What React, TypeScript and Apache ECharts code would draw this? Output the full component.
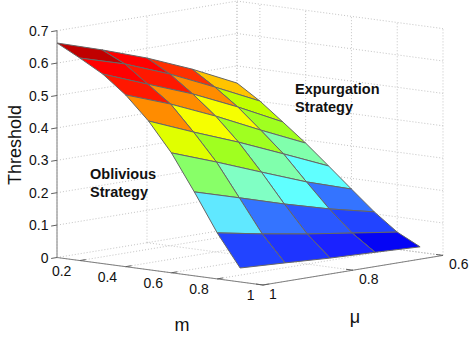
import React, { useEffect, useRef } from "react";
import * as echarts from "echarts";

// ---- data ----
const mValues = [0.1, 0.2, 0.3, 0.4, 0.5, 0.6, 0.7, 0.8, 0.9];
const muValues = [1, 0.9, 0.8, 0.7, 0.6];
const thresholdM01 = [0.662, 0.618, 0.57, 0.513, 0.447];
const thresholdM02 = [0.625, 0.584, 0.53, 0.467, 0.401];
const thresholdM03 = [0.585, 0.531, 0.478, 0.415, 0.346];
const thresholdM04 = [0.53, 0.479, 0.419, 0.353, 0.29];
const thresholdM05 = [0.459, 0.402, 0.348, 0.289, 0.229];
const thresholdM06 = [0.37, 0.319, 0.265, 0.212, 0.167];
const thresholdM07 = [0.259, 0.218, 0.176, 0.138, 0.106];
const thresholdM08 = [0.142, 0.116, 0.093, 0.073, 0.053];
const thresholdM09 = [0.043, 0.036, 0.028, 0.023, 0.017];
const thresholds = [
  thresholdM01, thresholdM02, thresholdM03, thresholdM04, thresholdM05,
  thresholdM06, thresholdM07, thresholdM08, thresholdM09,
];
// colour level of each face (row: m, column: mu)
const faceLevels = [
  [20, 19, 17, 15],
  [19, 18, 16, 12],
  [18, 16, 14, 11],
  [16, 14, 11, 9],
  [13, 11, 9, 7],
  [10, 8, 7, 5],
  [6, 5, 4, 3],
  [3, 2, 1, 0],
];
const zTicks = [0, 0.1, 0.2, 0.3, 0.4, 0.5, 0.6, 0.7];
const zTickLabels = ["0", "0.1", "0.2", "0.3", "0.4", "0.5", "0.6", "0.7"];
const mTicks = [0.2, 0.4, 0.6, 0.8, 1];
const mTickLabels = ["0.2", "0.4", "0.6", "0.8", "1"];
const muTicks = [1, 0.8, 0.6];
const muTickLabels = ["1", "0.8", "0.6"];

// ---- styling ----
const palette = [
  "#0505f5", "#1a22ff", "#1e34ff", "#2244ff", "#2a58ff", "#3474ff", "#60e8ff",
  "#60ffff", "#80ffc4", "#80ffac", "#88ff68", "#a0ff20", "#c0ff00", "#e0ff00",
  "#f6ff00", "#ffc400", "#ff8c00", "#ff3000", "#ff1800", "#ff0000", "#c00000",
];
const FONT = "Liberation Sans";

// ---- view projection of the 3D box on to the page plane ----
const M_MIN = 0.1, M_MAX = 1, MU_MIN = 0.6, MU_MAX = 1, Z_MAX = 0.7;
const project = (m: number, mu: number, z: number): [number, number] => {
  const a = (m - M_MIN) / (M_MAX - M_MIN);
  const b = (MU_MAX - mu) / (MU_MAX - MU_MIN);
  return [57 + 206 * a + 180 * b, 257.5 + 27.5 * a - 29.6 * b - 324 * z];
};

type Seg = { from: number[]; to: number[] };
const gridSegments: Seg[] = [];
zTicks.forEach((z) => {
  gridSegments.push({ from: [M_MIN, MU_MAX, z], to: [M_MIN, MU_MIN, z] });
  gridSegments.push({ from: [M_MIN, MU_MIN, z], to: [M_MAX, MU_MIN, z] });
});
mTicks.forEach((m) => {
  gridSegments.push({ from: [m, MU_MAX, 0], to: [m, MU_MIN, 0] });
  gridSegments.push({ from: [m, MU_MIN, 0], to: [m, MU_MIN, Z_MAX] });
});
muTicks.forEach((mu) => {
  gridSegments.push({ from: [M_MIN, mu, 0], to: [M_MAX, mu, 0] });
  gridSegments.push({ from: [M_MIN, mu, 0], to: [M_MIN, mu, Z_MAX] });
});
gridSegments.push({ from: [M_MIN, MU_MIN, 0], to: [M_MIN, MU_MIN, Z_MAX] });
gridSegments.push({ from: [M_MIN, MU_MIN, 0], to: [M_MAX, MU_MIN, 0] });

const axisSegments: Seg[] = [
  { from: [M_MIN, MU_MAX, 0], to: [M_MIN, MU_MAX, Z_MAX] },
  { from: [M_MIN, MU_MAX, 0], to: [M_MAX, MU_MAX, 0] },
  { from: [M_MAX, MU_MAX, 0], to: [M_MAX, MU_MIN, 0] },
];
const tickSegments: Seg[] = [
  ...zTicks.map((z) => ({ from: [M_MIN, MU_MAX, z], to: [M_MIN, MU_MAX + 0.013, z] })),
  ...mTicks.map((m) => ({ from: [m, MU_MAX, 0], to: [m, MU_MAX - 0.013, 0] })),
  ...muTicks.map((mu) => ({ from: [M_MAX, mu, 0], to: [M_MAX - 0.03, mu, 0] })),
];

const faces: number[][] = [];
faceLevels.forEach((row, i) => row.forEach((_, j) => faces.push([i, 3 - j])));
faces.sort((p, q) => p[0] - q[0] || q[1] - p[1]);

type Label = {
  text: string; x: number; y: number; size: number;
  align?: string; bold?: boolean; rotate?: number;
};
const labels: Label[] = [
  ...zTicks.map((z, k) => {
    const [, y] = project(M_MIN, MU_MAX, z);
    return { text: zTickLabels[k], x: 48.5, y, size: 14, align: "right" };
  }),
  ...mTicks.map((m, k) => {
    const [x, y] = project(m, MU_MAX, 0);
    return { text: mTickLabels[k], x: x - 8.5, y: y + 10, size: 14, align: "right" };
  }),
  ...muTicks.map((mu, k) => {
    const [x, y] = project(M_MAX, mu, 0);
    return { text: muTickLabels[k], x: x + 6, y: y + 9, size: 14, align: "left" };
  }),
  { text: "Threshold", x: 15, y: 145, size: 18, rotate: Math.PI / 2 },
  { text: "m", x: 182, y: 325, size: 18 },
  { text: "\u03bc", x: 355, y: 317, size: 18 },
  { text: "Expurgation", x: 295, y: 89, size: 14.5, align: "left", bold: true },
  { text: "Strategy", x: 295, y: 107, size: 14.5, align: "left", bold: true },
  { text: "Oblivious", x: 90, y: 174, size: 14.5, align: "left", bold: true },
  { text: "Strategy", x: 90, y: 192, size: 14.5, align: "left", bold: true },
];

const segSeries = (segs: Seg[], style: any, z: number) => ({
  type: "custom",
  coordinateSystem: "cartesian2d",
  silent: true,
  clip: false,
  z,
  data: segs.map((_, k) => [k]),
  renderItem: (_p: any, api: any) => {
    const s = segs[api.value(0)];
    const a = api.coord(project(s.from[0], s.from[1], s.from[2]));
    const b = api.coord(project(s.to[0], s.to[1], s.to[2]));
    return {
      type: "line",
      shape: { x1: a[0], y1: a[1], x2: b[0], y2: b[1] },
      style: { fill: null, ...style },
    };
  },
});

export default function App() {
  const ref = useRef<HTMLDivElement>(null);
  useEffect(() => {
    const chart = echarts.init(ref.current!, undefined, { renderer: "svg" });
    chart.setOption({
      animation: false,
      backgroundColor: "#ffffff",
      grid: { left: 0, right: 0, top: 0, bottom: 0 },
      xAxis: { type: "value", min: 0, max: 471, show: false },
      yAxis: { type: "value", min: 0, max: 346, inverse: true, show: false },
      series: [
        segSeries(gridSegments, { stroke: "#c4c4c4", lineWidth: 1, lineDash: [1, 2] }, 1),
        segSeries(axisSegments, { stroke: "#808080", lineWidth: 1 }, 2),
        segSeries(tickSegments, { stroke: "#606060", lineWidth: 1 }, 2),
        {
          type: "custom",
          coordinateSystem: "cartesian2d",
          silent: true,
          clip: false,
          z: 3,
          data: faces,
          renderItem: (_p: any, api: any) => {
            const i = api.value(0);
            const j = api.value(1);
            const corner = (a: number, b: number) =>
              api.coord(project(mValues[a], muValues[b], thresholds[a][b]));
            return {
              type: "polygon",
              shape: {
                points: [corner(i, j), corner(i, j + 1), corner(i + 1, j + 1), corner(i + 1, j)],
              },
              style: {
                fill: palette[faceLevels[i][j]],
                stroke: "#666666",
                lineWidth: 1,
                lineJoin: "round",
              },
            };
          },
        },
        {
          type: "custom",
          coordinateSystem: "cartesian2d",
          silent: true,
          clip: false,
          z: 4,
          data: labels.map((_, k) => [k]),
          renderItem: (_p: any, api: any) => {
            const l = labels[api.value(0)];
            const p = api.coord([l.x, l.y]);
            return {
              type: "text",
              x: p[0],
              y: p[1],
              rotation: l.rotate || 0,
              style: {
                text: l.text,
                fontFamily: FONT,
                fontSize: l.size,
                fontWeight: l.bold ? "bold" : "normal",
                fill: "#111111",
                align: l.align || "center",
                verticalAlign: "middle",
              },
            };
          },
        },
      ],
    });
    return () => chart.dispose();
  }, []);
  return <div ref={ref} style={{ position: "fixed", left: 0, top: 0, width: 471, height: 346 }} />;
}
